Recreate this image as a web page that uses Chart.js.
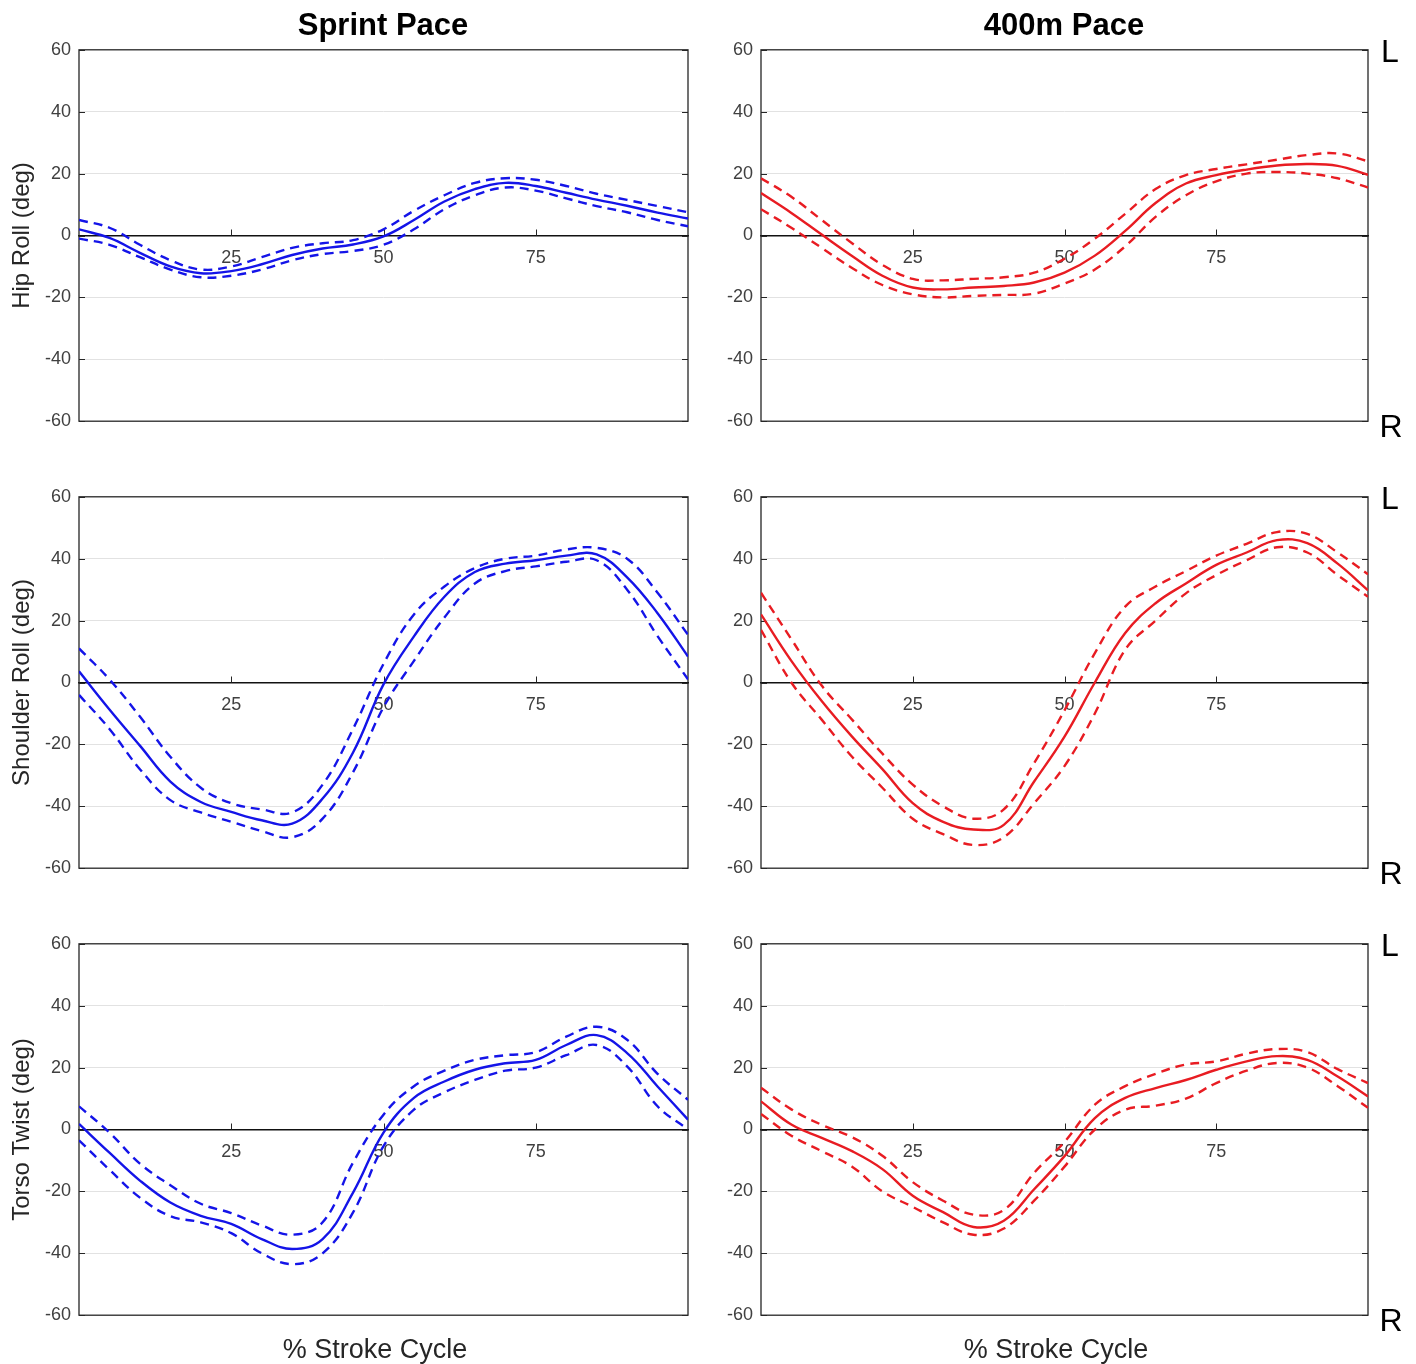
<!DOCTYPE html>
<html>
<head>
<meta charset="utf-8">
<title>Roll and twist over the stroke cycle</title>
<script src="https://cdn.jsdelivr.net/npm/chart.js@4.4.1/dist/chart.umd.min.js"></script>
<style>
  body { margin: 0; background: #fff; }
  #page { position: relative; width: 1416px; height: 1364px; overflow: hidden;
          font-family: "Liberation Sans", Arial, Helvetica, sans-serif; }
  canvas { position: absolute; }
  .txt { position: absolute; line-height: 1; white-space: nowrap; transform: translate(-50%, -50%); }
  .col-title { font-size: 31px; font-weight: bold; color: #000; }
  .x-title { font-size: 27px; color: #262626; }
  .side { font-size: 32px; color: #000; }
</style>
</head>
<body>
<div id="page">
  <canvas id="c1" width="700" height="409" style="left:0;top:31px"></canvas>
  <canvas id="c2" width="716" height="409" style="left:700px;top:31px"></canvas>
  <canvas id="c3" width="700" height="409" style="left:0;top:478px"></canvas>
  <canvas id="c4" width="716" height="409" style="left:700px;top:478px"></canvas>
  <canvas id="c5" width="700" height="409" style="left:0;top:925px"></canvas>
  <canvas id="c6" width="716" height="409" style="left:700px;top:925px"></canvas>

  <div class="txt col-title" style="left:383px;top:24px">Sprint Pace</div>
  <div class="txt col-title" style="left:1064px;top:24px">400m Pace</div>
  <div class="txt x-title" style="left:375px;top:1349px">% Stroke Cycle</div>
  <div class="txt x-title" style="left:1056px;top:1349px">% Stroke Cycle</div>

  <div class="txt side" style="left:1390px;top:51px">L</div>
  <div class="txt side" style="left:1391px;top:426px">R</div>
  <div class="txt side" style="left:1390px;top:498px">L</div>
  <div class="txt side" style="left:1391px;top:873px">R</div>
  <div class="txt side" style="left:1390px;top:945px">L</div>
  <div class="txt side" style="left:1391px;top:1320px">R</div>
</div>
<script>
// % of stroke cycle where each curve is sampled
const pct = [0, 5, 10, 15, 20, 25, 30, 35, 40, 45, 50, 55, 60, 65, 70, 75, 80, 85, 90, 95, 100];
const xTickValues = [25, 50, 75];
const yTickValues = [-60, -40, -20, 0, 20, 40, 60];

// hip roll (deg): mean and mean +/- SD
const sprintHipMean = [2, -0.8, -5.6, -10, -12.2, -11.5, -9.3, -6.3, -4.2, -2.9, -0.3, 5, 11, 15, 17, 16, 13.8, 11.6, 9.6, 7.4, 5.5];
const sprintHipHi   = [5, 2.5, -3, -8, -11, -10, -7, -4, -2.5, -1.5, 2, 8, 13, 17, 18.5, 18, 16, 13.5, 11.5, 9.5, 7.5];
const sprintHipLo   = [-1, -3, -7, -11, -13.5, -13, -11, -8, -6, -5, -3, 2, 8.5, 13, 15.5, 14.5, 12, 9.5, 7.5, 5, 3];

const pace400HipMean = [13.7, 7.3, 0.3, -6.6, -13, -16.8, -17.4, -16.8, -16.3, -15.2, -12, -6.5, 1.5, 10.5, 16.8, 19.5, 21.3, 22.6, 23.1, 22.5, 19.6];
const pace400HipHi   = [18.5, 12.5, 5, -2.5, -9.5, -14, -14.5, -14, -13.5, -12, -7.5, -1, 7, 15, 19.5, 21.5, 23, 24.5, 26, 26.5, 24];
const pace400HipLo   = [8.5, 2.5, -4, -10.5, -16, -19, -20, -19.5, -19.2, -18.8, -15.5, -11, -3.5, 6, 13, 17.5, 20, 20.5, 20, 18.5, 15.5];

// shoulder roll (deg)
const sprintShoulderMean = [3.6, -8.7, -20.4, -32, -38.6, -41.8, -44.5, -45.6, -37.5, -22.6, -0.6, 14.9, 27.7, 35.7, 38.4, 39.5, 41, 41.4, 34, 22.4, 8.4];
const sprintShoulderHi   = [11, 1, -11, -24, -34, -39, -41, -42, -33, -15, 6, 22, 31, 37, 40, 41, 43, 43.5, 40, 29, 15.4];
const sprintShoulderLo   = [-4, -15, -28, -38, -42, -45, -48, -50, -44, -29, -8, 7, 21, 32, 36, 37.5, 39, 39.5, 30, 15, 1];

const pace400ShoulderMean = [22, 7, -6, -17.5, -28, -39, -45, -47.5, -46, -32, -17.5, 0, 16, 25.6, 32, 38, 42, 46, 45, 38.4, 29.8];
const pace400ShoulderHi   = [29, 14, -1, -12, -23, -33, -40, -44, -41, -26, -9, 9.5, 24.5, 31, 36, 41, 44.8, 48.6, 48, 42, 35];
const pace400ShoulderLo   = [17, 0, -12, -24, -34, -44, -49, -52.5, -50, -39, -27, -10, 10.6, 20, 28.8, 34.7, 39.5, 43.7, 42, 34.7, 27.7];

// torso twist (deg)
const sprintTorsoMean = [1.8, -7.5, -16.5, -23.6, -27.9, -30.5, -35.4, -38.6, -35.4, -20.4, -1, 10.2, 15.5, 19.3, 21.4, 22.5, 27.3, 30.5, 24.7, 13.9, 3.2];
const sprintTorsoHi   = [7.5, -1, -11, -18, -24, -27, -31, -34, -30, -10.7, 4.8, 14, 19, 22.5, 24, 25, 30, 33.2, 29, 18, 9.6];
const sprintTorsoLo   = [-3.5, -13, -22, -28, -30, -33.5, -40, -43.5, -40, -26.8, -5.4, 6.4, 12, 16, 19, 20, 24, 27.3, 20.4, 7.5, 0];

const pace400TorsoMean = [9.1, 1.6, -2.7, -7, -12.8, -21.4, -26.7, -31.5, -29.5, -19.3, -8.6, 3.7, 10.2, 13.4, 16, 19.3, 22, 23.7, 22.5, 17.1, 10.7];
const pace400TorsoHi   = [13.5, 6.5, 1.5, -2.5, -8.5, -17, -23, -27.5, -26, -14, -4, 8, 14, 18, 21, 22, 24.5, 26, 25, 19.5, 15];
const pace400TorsoLo   = [5, -2, -7, -12, -20, -25, -30, -34, -32, -23, -12, 0, 6.4, 7.7, 10, 15, 19, 21.5, 20, 14, 7];

const BLUE = '#1414e8';
const RED = '#e81c22';

Chart.defaults.font.family = '"Liberation Sans", Arial, Helvetica, sans-serif';
Chart.defaults.color = '#404040';

const panels = [
  { id: 'c1', left: true,  color: BLUE, title: 'Hip Roll (deg)',      mean: sprintHipMean,       hi: sprintHipHi,       lo: sprintHipLo },
  { id: 'c2', left: false, color: RED,  title: '',                    mean: pace400HipMean,      hi: pace400HipHi,      lo: pace400HipLo },
  { id: 'c3', left: true,  color: BLUE, title: 'Shoulder Roll (deg)', mean: sprintShoulderMean,  hi: sprintShoulderHi,  lo: sprintShoulderLo },
  { id: 'c4', left: false, color: RED,  title: '',                    mean: pace400ShoulderMean, hi: pace400ShoulderHi, lo: pace400ShoulderLo },
  { id: 'c5', left: true,  color: BLUE, title: 'Torso Twist (deg)',   mean: sprintTorsoMean,     hi: sprintTorsoHi,     lo: sprintTorsoLo },
  { id: 'c6', left: false, color: RED,  title: '',                    mean: pace400TorsoMean,    hi: pace400TorsoHi,    lo: pace400TorsoLo }
];

// box round the plot area, with short inward ticks like the original axes
const boxFrame = {
  id: 'boxFrame',
  beforeDatasetsDraw(chart) {
    const { ctx, chartArea: a, scales: { x, y } } = chart;
    ctx.save();
    ctx.strokeStyle = '#262626';
    ctx.lineWidth = 1.3;
    ctx.strokeRect(a.left, a.top, a.width, a.height);
    ctx.beginPath();
    y.ticks.forEach(t => {
      const py = Math.round(y.getPixelForValue(t.value)) + 0.5;
      ctx.moveTo(a.left, py); ctx.lineTo(a.left + 6, py);
      ctx.moveTo(a.right, py); ctx.lineTo(a.right - 6, py);
    });
    const y0 = y.getPixelForValue(0);
    x.ticks.forEach(t => {
      const px = Math.round(x.getPixelForValue(t.value)) + 0.5;
      ctx.moveTo(px, y0); ctx.lineTo(px, y0 - 6);
    });
    ctx.lineWidth = 1;
    ctx.stroke();
    ctx.restore();
  }
};

function series(values) {
  return pct.map((p, i) => ({ x: p, y: values[i] }));
}

function line(values, color, dashed) {
  return {
    data: series(values),
    borderColor: color,
    borderWidth: 2.4,
    borderDash: dashed ? [9, 6] : [],
    pointRadius: 0,
    tension: 0.4,
    fill: false
  };
}

panels.forEach(p => {
  new Chart(document.getElementById(p.id), {
    type: 'line',
    data: {
      datasets: [
        line(p.hi, p.color, true),
        line(p.mean, p.color, false),
        line(p.lo, p.color, true)
      ]
    },
    options: {
      responsive: false,
      animation: false,
      events: [],
      layout: { padding: { top: 18, bottom: 18, left: 0, right: p.left ? 12 : 48 } },
      plugins: { legend: { display: false }, tooltip: { enabled: false } },
      scales: {
        x: {
          type: 'linear',
          min: 0,
          max: 100,
          position: { y: 0 },
          afterBuildTicks: s => { s.ticks = xTickValues.map(v => ({ value: v })); },
          grid: { drawOnChartArea: false, drawTicks: false },
          border: { display: true, color: '#111', width: 1.5 },
          ticks: { font: { size: 18 }, color: '#404040', padding: 12, maxRotation: 0 }
        },
        y: {
          min: -60,
          max: 60,
          afterBuildTicks: s => { s.ticks = yTickValues.map(v => ({ value: v })); },
          afterFit: s => { s.width = p.left ? 79 : 61; },
          grid: {
            drawTicks: false,
            color: c => (c.tick && (c.tick.value === 0 || Math.abs(c.tick.value) === 60)) ? 'rgba(0,0,0,0)' : '#e2e2e2',
            lineWidth: 1
          },
          border: { display: false },
          ticks: { font: { size: 18 }, color: '#404040', padding: 8 },
          title: {
            display: p.left,
            text: p.title,
            color: '#262626',
            font: { size: 24 },
            padding: { top: 8, bottom: 0 }
          }
        }
      }
    },
    plugins: [boxFrame]
  });
});
</script>
</body>
</html>
